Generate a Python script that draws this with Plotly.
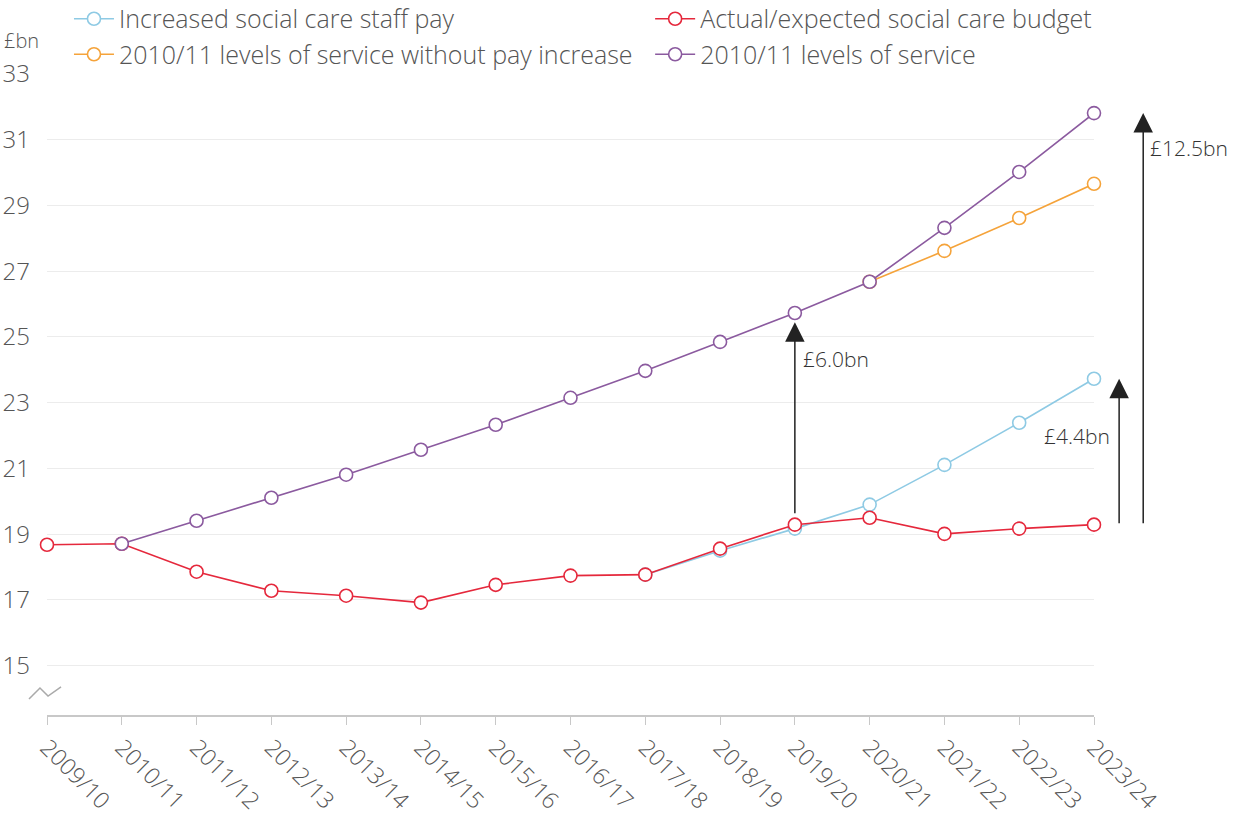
import plotly.graph_objects as go

years = ["2009/10", "2010/11", "2011/12", "2012/13", "2013/14", "2014/15", "2015/16",
         "2016/17", "2017/18", "2018/19", "2019/20", "2020/21", "2021/22", "2022/23", "2023/24"]

staff_pay = [None, None, None, None, None, None, None, None,
             17.77, 18.50, 19.17, 19.90, 21.11, 22.39, 23.73]
budget = [18.68, 18.71, 17.86, 17.28, 17.13, 16.92, 17.46, 17.74, 17.77,
          18.56, 19.29, 19.50, 19.01, 19.17, 19.29]
no_pay_rise = [None, None, None, None, None, None, None, None, None, None, None,
               26.68, 27.62, 28.62, 29.66]
service_2010 = [None, 18.71, 19.41, 20.11, 20.81, 21.57, 22.33, 23.15, 23.97,
                24.85, 25.73, 26.68, 28.32, 30.02, 31.81]

y_ticks = [15, 17, 19, 21, 23, 25, 27, 29, 31, 33]

BLUE = "#8ECAE4"
RED = "#E5283C"
ORANGE = "#F5A33A"
PURPLE = "#8B5A9F"
FONT = "Open Sans"
GREY = "#555555"

fig = go.Figure()
series = [
    ("Increased social care staff pay", staff_pay, BLUE, "legend"),
    ("Actual/expected social care budget", budget, RED, "legend2"),
    ("2010/11 levels of service without pay increase", no_pay_rise, ORANGE, "legend"),
    ("2010/11 levels of service", service_2010, PURPLE, "legend2"),
]
for i, (name, vals, col, leg) in enumerate(series):
    fig.add_trace(go.Scatter(
        x=years, y=vals, name=name, mode="lines+markers",
        line=dict(color=col, width=1.6),
        marker=dict(symbol="circle", size=13, color="white",
                    line=dict(color=col, width=1.6)),
        legend=leg, legendgroup=f"g{i}", legendrank=i + 1,
        connectgaps=False, cliponaxis=False,
    ))

i19 = years.index("2019/20")
arrow_style = dict(showarrow=True, arrowhead=2, arrowsize=2.6, arrowwidth=1.5,
                   arrowcolor="#222222", text="", yref="y", ayref="y")
ann_font = dict(size=21, color="#333333", family=FONT, weight=300)
annotations = [
    dict(x=i19, xref="x", axref="x", ax=i19, y=service_2010[i19] - 0.28,
         ay=budget[i19] + 0.3, **arrow_style),
    dict(x=1.024, xref="paper", axref="pixel", ax=0, y=staff_pay[-1],
         ay=budget[-1], **arrow_style),
    dict(x=1.047, xref="paper", axref="pixel", ax=0, y=service_2010[-1],
         ay=budget[-1], **arrow_style),
    dict(x=i19 + 0.08, xref="x", y=24.33, yref="y", text="£6.0bn", showarrow=False,
         xanchor="left", font=ann_font),
    dict(x=1.0172, xref="paper", y=21.99, yref="y", text="£4.4bn", showarrow=False,
         xanchor="right", font=ann_font),
    dict(x=1.0516, xref="paper", y=30.75, yref="y", text="£12.5bn", showarrow=False,
         xanchor="left", font=ann_font),
    dict(x=-0.043, xref="paper", y=1.053, yref="paper", text="£bn", showarrow=False,
         xanchor="left", yanchor="middle",
         font=dict(size=20, color=GREY, family=FONT, weight=300)),
]

leg_common = dict(orientation="v", xref="container", yref="paper",
                  y=1.1217, xanchor="left", yanchor="top",
                  traceorder="grouped", tracegroupgap=0, itemwidth=40,
                  font=dict(size=25, color=GREY, family=FONT, weight=300),
                  bgcolor="rgba(0,0,0,0)")

fig.update_layout(
    width=1236, height=818,
    margin=dict(l=47, r=142, t=74, b=103, autoexpand=False),
    paper_bgcolor="white", plot_bgcolor="white",
    font=dict(family=FONT, color=GREY, size=20, weight=300),
    legend=dict(x=0.0558, **leg_common),
    legend2=dict(x=0.526, **leg_common),
    annotations=annotations,
    showlegend=True,
)
fig.update_xaxes(
    type="category", range=[0, 14], showgrid=False, showline=True,
    linecolor="#c8c8c8", linewidth=2, ticks="outside", ticklen=8, tickwidth=1,
    tickcolor="#c8c8c8", tickangle=45,
    tickfont=dict(size=23, color=GREY, family=FONT, weight=300),
    zeroline=False, automargin=False,
)
fig.update_yaxes(
    range=[13.5, 33], tickvals=y_ticks, showgrid=True, gridcolor="#ececec",
    gridwidth=1, showline=False, zeroline=False, ticks="",
    tickfont=dict(size=24, color=GREY, family=FONT, weight=300),
    ticklabelstandoff=16, automargin=False,
)
# axis break symbol
fig.add_shape(type="path", xref="paper", yref="paper",
              path="M -0.0172 0.025 L -0.0067 0.042 L 0.001 0.0296 L 0.0134 0.0437",
              line=dict(color="#aaaaaa", width=1.5))

fig.write_html("out.html", config={"displayModeBar": False},
               post_script="document.body.style.margin='0px';")
